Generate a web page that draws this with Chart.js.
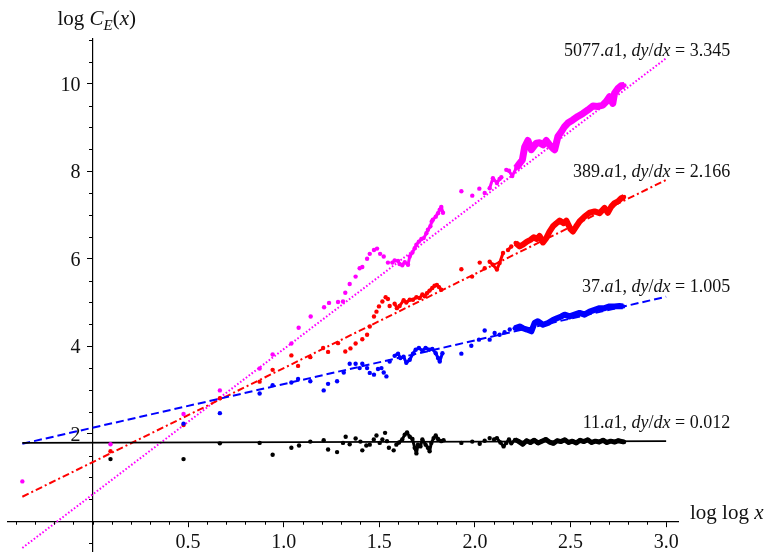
<!DOCTYPE html>
<html>
<head>
<meta charset="utf-8">
<script src="https://cdn.jsdelivr.net/npm/chart.js@4.4.1/dist/chart.umd.min.js"></script>
<style>
  html, body { margin: 0; padding: 0; background: #fff; }
  #wrap { width: 765px; height: 555px; }
</style>
</head>
<body>
<div id="wrap"><canvas id="chart" width="765" height="555"></canvas></div>
<script>
// Points: [log log p, log C_E(p)]
const pts5077 = [
  [-0.367,0.91],[0.094,1.76],[0.476,2.45],[0.666,2.99],[0.874,3.49],[0.942,3.81],[1.040,4.06],[1.078,4.42],
  [1.141,4.68],[1.211,4.89],[1.237,4.99],[1.284,5.01],[1.310,5.02],[1.322,5.22],[1.345,5.42],[1.376,5.59],
  [1.397,5.78],[1.411,5.81],[1.436,6.00],[1.450,6.11],[1.472,6.20],[1.488,6.23],[1.504,6.11],[1.523,6.05],
  [1.545,5.91],[1.568,5.91],[1.580,5.96],[1.598,5.95],[1.606,5.88],[1.620,5.85],[1.633,5.92],[1.650,5.86],
  [1.659,6.05],[1.673,6.14],[1.685,6.24],[1.694,6.32],[1.707,6.39],[1.720,6.45],[1.732,6.47],[1.746,6.58],
  [1.754,6.66],[1.767,6.74],[1.774,6.85],[1.780,6.89],[1.795,6.96],[1.807,7.04],[1.816,7.12],[1.824,7.18],
  [1.833,7.05],[1.929,7.54],[1.986,7.44],[2.023,7.60],[2.051,7.50],[2.077,7.61],[2.094,7.84],[2.115,7.73],
  [2.129,7.82],[2.138,7.86],[2.164,8.03],[2.178,8.01],[2.195,7.89],[2.216,8.07],[2.234,8.18],[2.248,8.26],
  [2.260,8.55],[2.277,8.70],[2.295,8.49],[2.321,8.64],[2.338,8.65],[2.356,8.60],[2.373,8.70],[2.390,8.60],
  [2.408,8.52],[2.417,8.49],[2.434,8.79],[2.452,8.90],[2.469,9.02],[2.486,9.10],[2.512,9.17],[2.538,9.25],
  [2.565,9.32],[2.591,9.40],[2.617,9.49],[2.643,9.48],[2.669,9.51],[2.687,9.59],[2.704,9.70],[2.721,9.55],
  [2.730,9.78],[2.748,9.89],[2.765,9.95],[2.782,9.96]
];
const pts389 = [
  [0.094,1.60],[0.476,2.20],[0.666,2.81],[0.874,3.19],[0.942,3.46],[1.040,3.79],[1.075,3.55],[1.139,3.75],
  [1.206,3.96],[1.232,3.87],[1.284,4.07],[1.322,3.88],[1.349,3.95],[1.376,4.06],[1.411,4.16],[1.436,4.26],
  [1.450,4.45],[1.472,4.68],[1.485,4.79],[1.498,4.91],[1.516,5.02],[1.533,5.12],[1.545,5.08],[1.554,4.92],
  [1.580,4.97],[1.592,4.87],[1.606,4.92],[1.627,5.05],[1.641,5.00],[1.659,5.06],[1.676,5.06],[1.694,5.12],
  [1.711,5.10],[1.725,5.18],[1.737,5.14],[1.749,5.21],[1.763,5.27],[1.777,5.33],[1.789,5.38],[1.801,5.40],
  [1.812,5.35],[1.824,5.29],[1.929,5.76],[1.985,5.59],[2.025,5.91],[2.051,5.78],[2.077,5.93],[2.094,5.86],
  [2.115,5.75],[2.129,5.90],[2.147,6.13],[2.173,6.20],[2.190,6.28],[2.213,6.36],[2.234,6.28],[2.251,6.32],
  [2.272,6.39],[2.290,6.43],[2.307,6.49],[2.324,6.45],[2.338,6.52],[2.356,6.37],[2.373,6.47],[2.390,6.62],
  [2.408,6.74],[2.426,6.81],[2.443,6.87],[2.464,6.81],[2.478,6.87],[2.499,6.68],[2.512,6.62],[2.530,6.74],
  [2.547,6.85],[2.573,6.96],[2.600,7.05],[2.626,7.08],[2.652,7.04],[2.678,7.16],[2.695,7.05],[2.713,7.19],
  [2.730,7.27],[2.748,7.31],[2.765,7.38],[2.780,7.41]
];
const pts37 = [
  [0.476,2.23],[0.666,2.47],[0.874,2.92],[0.942,3.11],[1.040,3.17],[1.075,3.25],[1.139,3.20],[1.209,2.99],
  [1.232,3.14],[1.279,3.20],[1.314,3.40],[1.345,3.60],[1.376,3.60],[1.397,3.50],[1.411,3.60],[1.436,3.50],
  [1.450,3.39],[1.472,3.35],[1.493,3.48],[1.511,3.50],[1.523,3.40],[1.537,3.31],[1.554,3.65],[1.580,3.78],
  [1.598,3.83],[1.610,3.73],[1.627,3.76],[1.641,3.62],[1.659,3.69],[1.676,3.83],[1.690,3.92],[1.707,3.96],
  [1.725,3.90],[1.742,3.96],[1.760,3.92],[1.777,3.94],[1.795,3.84],[1.807,3.73],[1.816,3.65],[1.830,3.84],
  [1.929,3.83],[1.981,4.01],[2.021,4.15],[2.051,4.36],[2.077,4.15],[2.103,4.30],[2.129,4.26],[2.155,4.32],
  [2.182,4.38],[2.208,4.41],[2.234,4.45],[2.251,4.41],[2.272,4.38],[2.295,4.34],[2.312,4.53],[2.329,4.57],
  [2.356,4.49],[2.382,4.53],[2.408,4.60],[2.429,4.64],[2.452,4.68],[2.469,4.72],[2.495,4.68],[2.521,4.72],
  [2.547,4.76],[2.573,4.72],[2.600,4.79],[2.626,4.83],[2.652,4.87],[2.678,4.87],[2.704,4.91],[2.730,4.91],
  [2.756,4.92],[2.775,4.91]
];
const pts11 = [
  [0.094,1.42],[0.476,1.42],[0.666,1.78],[0.874,1.79],[0.942,1.52],[1.040,1.68],[1.080,1.73],[1.139,1.82],
  [1.209,1.85],[1.232,1.64],[1.279,1.58],[1.310,1.79],[1.324,1.93],[1.345,1.76],[1.376,1.89],[1.401,1.82],
  [1.411,1.62],[1.432,1.73],[1.450,1.75],[1.471,1.87],[1.485,1.96],[1.502,1.79],[1.516,1.87],[1.530,2.02],
  [1.540,1.83],[1.550,1.68],[1.575,1.62],[1.589,1.75],[1.603,1.80],[1.620,1.87],[1.633,1.98],[1.645,2.03],
  [1.659,1.93],[1.673,1.88],[1.685,1.68],[1.694,1.55],[1.702,1.75],[1.715,1.71],[1.725,1.87],[1.742,1.75],
  [1.754,1.68],[1.763,1.60],[1.772,1.79],[1.784,1.90],[1.795,1.96],[1.807,1.88],[1.824,1.83],[1.836,1.85],
  [1.929,1.79],[1.986,1.82],[2.025,1.77],[2.051,1.84],[2.077,1.90],[2.100,1.87],[2.115,1.90],[2.133,1.80],
  [2.150,1.71],[2.164,1.79],[2.178,1.87],[2.190,1.78],[2.210,1.86],[2.230,1.82],[2.250,1.76],[2.270,1.84],
  [2.290,1.80],[2.310,1.85],[2.330,1.79],[2.350,1.83],[2.370,1.87],[2.390,1.81],[2.410,1.78],[2.430,1.84],
  [2.450,1.82],[2.470,1.86],[2.490,1.80],[2.510,1.83],[2.530,1.79],[2.550,1.85],[2.570,1.82],[2.590,1.86],
  [2.610,1.80],[2.630,1.83],[2.650,1.81],[2.670,1.85],[2.690,1.80],[2.710,1.83],[2.730,1.81],[2.750,1.84],
  [2.770,1.82],[2.780,1.81]
];

// Fitted lines, end points
const fit5077 = [[-0.367,-0.61],[3.0,10.58]];
const fit389 = [[-0.367,0.56],[3.0,7.80]];
const fit37 = [[-0.367,1.77],[3.0,5.13]];
const fit11 = [[-0.367,1.79],[3.0,1.83]];

// Curve labels
const curveNames = ['5077', '389', '37', '11'];
const curveSlopes = ['3.345', '2.166', '1.005', '0.012'];
const labelY = [10.63, 7.87, 5.24, 2.14];

const FONT = '"Liberation Serif", "DejaVu Serif", serif';
const toXY = arr => arr.map(p => ({ x: p[0], y: p[1] }));
const near = (v, step) => Math.abs(v / step - Math.round(v / step)) < 1e-6;
const isMajorX = v => v > 0.01 && near(v, 0.5);
const isMajorY = v => v > 0.01 && near(v, 2);

// dense runs of primes merge into a thick band, sparse ones stay dots
function bandSegments(width) {
    return {
        borderColor: c => {
            const x0 = c.p0.parsed.x;
            const dx = c.p1.parsed.x - x0;
            if (x0 < 1.58) return 'rgba(0,0,0,0)';
            return dx < (x0 > 2.2 ? 0.04 : 0.022) ? undefined : 'rgba(0,0,0,0)';
        },
        borderWidth: c => (c.p0.parsed.x > 2.2 ? width : 3)
    };
}

function pointSet(data, color, width) {
    return {
        data: toXY(data),
        showLine: true,
        borderColor: color,
        backgroundColor: color,
        pointRadius: 2.2,
        pointBorderWidth: 0,
        pointBackgroundColor: color,
        borderWidth: 3,
        borderJoinStyle: 'round',
        tension: 0,
        segment: bandSegments(width)
    };
}

function fitSet(data, color, dash, width) {
    return {
        data: toXY(data),
        showLine: true,
        borderColor: color,
        borderWidth: width,
        borderDash: dash,
        borderCapStyle: 'butt',
        pointRadius: 0,
        tension: 0
    };
}

function runFont(style, size) {
    if (style === 'i') return 'italic ' + size + 'px ' + FONT;
    if (style === 'sub') return 'italic ' + Math.round(size * 0.7) + 'px ' + FONT;
    return size + 'px ' + FONT;
}

function drawRuns(ctx, runs, x, y, size, align) {
    let w = 0;
    runs.forEach(([t, s]) => { ctx.font = runFont(s, size); w += ctx.measureText(t).width; });
    let cx = align === 'right' ? x - w : x;
    runs.forEach(([t, s]) => {
        ctx.font = runFont(s, size);
        ctx.fillText(t, cx, s === 'sub' ? y + size * 0.22 : y);
        cx += ctx.measureText(t).width;
    });
}

const textPlugin = {
    id: 'texts',
    afterDraw(chart) {
        const { ctx, scales: { x, y } } = chart;
        ctx.save();
        ctx.fillStyle = '#111';
        ctx.textBaseline = 'alphabetic';

        const x0 = x.getPixelForValue(0);
        const y0 = y.getPixelForValue(0);

        // minor ticks
        ctx.strokeStyle = '#000';
        ctx.lineWidth = 1;
        ctx.beginPath();
        x.ticks.forEach(t => {
            if (isMajorX(t.value)) return;
            const px = Math.round(x.getPixelForValue(t.value)) + 0.5;
            ctx.moveTo(px, y0);
            ctx.lineTo(px, y0 + 3.5);
        });
        y.ticks.forEach(t => {
            if (isMajorY(t.value)) return;
            const py = Math.round(y.getPixelForValue(t.value)) + 0.5;
            ctx.moveTo(x0, py);
            ctx.lineTo(x0 - 3.5, py);
        });
        ctx.stroke();

        // tick labels
        ctx.font = '20px ' + FONT;
        ctx.textAlign = 'center';
        x.ticks.forEach(t => {
            if (isMajorX(t.value)) ctx.fillText(t.value.toFixed(1), x.getPixelForValue(t.value), y0 + 27);
        });
        ctx.textAlign = 'right';
        y.ticks.forEach(t => {
            if (isMajorY(t.value)) ctx.fillText(String(Math.round(t.value)), x0 - 12, y.getPixelForValue(t.value) + 7);
        });

        // axis titles
        ctx.textAlign = 'left';
        drawRuns(ctx, [['log ', ''], ['C', 'i'], ['E', 'sub'], ['(', ''], ['x', 'i'], [')', '']],
            x0 - 35, 25, 21, 'left');
        drawRuns(ctx, [['log log ', ''], ['x', 'i']], x.right + 12, y0 - 2, 21, 'left');

        // curve labels
        const lx = x.getPixelForValue(3.0) + 64;
        curveNames.forEach((name, i) => {
            drawRuns(ctx, [
                [name + '.', ''], ['a', 'i'], ['1, ', ''], ['dy', 'i'], ['/', ''], ['dx', 'i'],
                [' = ' + curveSlopes[i], '']
            ], lx, y.getPixelForValue(labelY[i]), 18, 'right');
        });
        ctx.restore();
    }
};

new Chart(document.getElementById('chart'), {
    type: 'scatter',
    data: {
        datasets: [
            pointSet(pts11, '#000000', 5),
            pointSet(pts37, '#0000ff', 6),
            pointSet(pts389, '#ff0000', 6),
            pointSet(pts5077, '#ff00ff', 7),
            fitSet(fit11, '#000000', [], 1.6),
            fitSet(fit37, '#0000ff', [8, 4], 2),
            fitSet(fit389, '#ff0000', [7, 3, 2, 3], 2),
            fitSet(fit5077, '#ff00ff', [1.6, 2.0], 2)
        ]
    },
    options: {
        responsive: false,
        animation: false,
        layout: { padding: { left: 8, right: 87, top: 39, bottom: 0 } },
        plugins: {
            legend: { display: false },
            tooltip: { enabled: false }
        },
        scales: {
            x: {
                type: 'linear',
                min: -0.442,
                max: 3.062,
                position: { y: 0 },
                grid: {
                    drawOnChartArea: false,
                    tickLength: 5,
                    tickColor: c => (c.tick && isMajorX(c.tick.value) ? '#000' : 'rgba(0,0,0,0)')
                },
                border: { display: true, color: '#000', width: 1.2 },
                ticks: {
                    display: false,
                    stepSize: 0.1,
                    includeBounds: false,
                    autoSkip: false,
                    maxRotation: 0
                }
            },
            y: {
                type: 'linear',
                min: -0.68,
                max: 11.02,
                position: { x: 0 },
                grid: {
                    drawOnChartArea: false,
                    tickLength: 5,
                    tickColor: c => (c.tick && isMajorY(c.tick.value) ? '#000' : 'rgba(0,0,0,0)')
                },
                border: { display: true, color: '#000', width: 1.2 },
                ticks: {
                    display: false,
                    stepSize: 0.5,
                    includeBounds: false,
                    autoSkip: false
                }
            }
        }
    },
    plugins: [textPlugin]
});
</script>
</body>
</html>
